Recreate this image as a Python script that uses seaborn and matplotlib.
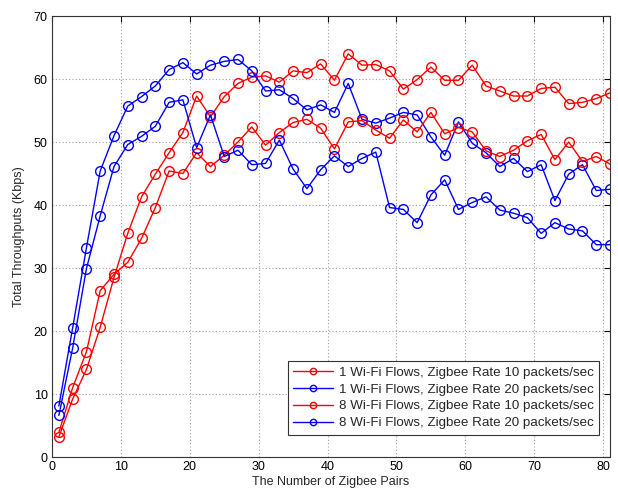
import numpy as np
import pandas as pd
import matplotlib
matplotlib.use("Agg")
import matplotlib.pyplot as plt
import seaborn as sns

pairs = list(range(1, 82, 2))

wifi1_rate10 = [3.2, 9.2, 13.9, 20.6, 28.5, 35.5, 41.3, 44.9, 48.3, 51.5,
                57.3, 54.0, 57.2, 59.3, 60.3, 60.5, 59.5, 61.3, 61.0, 62.4,
                59.8, 64.0, 62.2, 62.3, 61.3, 58.4, 59.9, 61.9, 59.8, 59.8,
                62.2, 58.9, 58.1, 57.3, 57.3, 58.5, 58.7, 56.1, 56.3, 56.9, 57.8]
wifi1_rate20 = [8.1, 20.5, 33.2, 45.4, 51.0, 55.7, 57.2, 58.9, 61.5, 62.6,
                60.8, 62.2, 62.8, 63.1, 61.3, 58.1, 58.3, 56.9, 55.1, 55.9,
                54.7, 59.3, 53.6, 53.0, 53.8, 54.7, 54.3, 50.8, 47.9, 53.2,
                49.8, 48.3, 46.1, 47.4, 45.3, 46.4, 40.7, 44.9, 46.4, 42.3, 42.5]
wifi8_rate10 = [3.9, 11.0, 16.7, 26.4, 29.0, 30.9, 34.7, 39.6, 45.4, 45.0,
                48.3, 46.1, 47.9, 50.0, 52.4, 49.5, 51.5, 53.1, 53.6, 52.2,
                48.9, 53.2, 53.4, 51.9, 50.6, 53.5, 51.6, 54.7, 51.3, 52.3,
                51.6, 48.6, 47.7, 48.7, 50.2, 51.2, 47.2, 50.0, 46.9, 47.7, 46.5]
wifi8_rate20 = [6.6, 17.3, 29.9, 38.3, 46.1, 49.6, 50.9, 52.5, 56.3, 56.7,
                49.1, 54.3, 47.7, 48.7, 46.4, 46.6, 50.3, 45.7, 42.6, 45.6,
                47.8, 46.1, 47.4, 48.4, 39.6, 39.3, 37.2, 41.6, 44.0, 39.3,
                40.4, 41.3, 39.2, 38.7, 38.0, 35.5, 37.2, 36.2, 35.9, 33.7, 33.7]

labels = ["1 Wi-Fi Flows, Zigbee Rate 10 packets/sec",
          "1 Wi-Fi Flows, Zigbee Rate 20 packets/sec",
          "8 Wi-Fi Flows, Zigbee Rate 10 packets/sec",
          "8 Wi-Fi Flows, Zigbee Rate 20 packets/sec"]
colors = ["#ff0000", "#0000ff", "#ff0000", "#0000ff"]
series = [wifi1_rate10, wifi1_rate20, wifi8_rate10, wifi8_rate20]

sns.set_theme(style="white")
plt.rcParams['font.family'] = ['Liberation Sans', 'DejaVu Sans']

fig = plt.figure(figsize=(6.18, 4.93), dpi=100)
ax = fig.add_axes([0.0841, 0.073, 0.903, 0.8945])

for vals, lab, col in zip(series, labels, colors):
    df = pd.DataFrame({"pairs": pairs, "tput": vals})
    sns.lineplot(data=df, x="pairs", y="tput", ax=ax, color=col, label=lab,
                 marker="o", markersize=7, markerfacecolor="none",
                 markeredgecolor=col, markeredgewidth=1.0, linewidth=1.0)

ax.set_xlim(0, 81)
ax.set_ylim(0, 70)
ax.set_xticks(range(0, 81, 10))
ax.set_yticks(range(0, 71, 10))
ax.tick_params(direction="in", top=True, right=True, length=4, width=0.8,
               labelsize=9, colors="#000000", pad=3)
ax.grid(True, linestyle=(0, (1, 2)), color="#a0a0a0", linewidth=0.8)
for s in ax.spines.values():
    s.set_color("#333333")
    s.set_linewidth(0.8)
ax.set_xlabel("The Number of Zigbee Pairs", fontsize=9, labelpad=2)
ax.set_ylabel("Total Throughputs (Kbps)", fontsize=9, labelpad=6)

leg = ax.legend(loc="lower right", bbox_to_anchor=(0.980, 0.051),
                fontsize=9.6, frameon=True, fancybox=False,
                edgecolor="#333333", framealpha=1, borderaxespad=0.0,
                handlelength=3.0, handletextpad=0.4, labelspacing=0.33,
                borderpad=0.4, markerscale=0.65)
leg.get_frame().set_linewidth(0.8)

fig.savefig("out.png", dpi=100)
